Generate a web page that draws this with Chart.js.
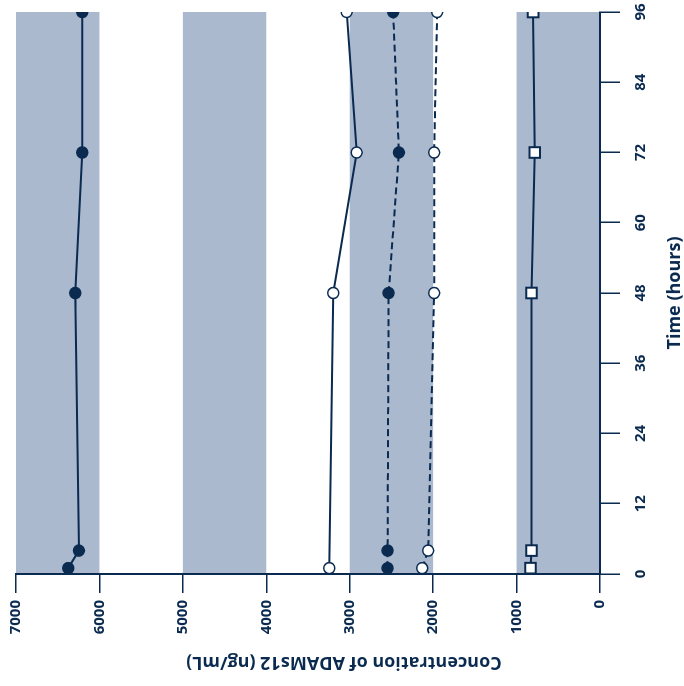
<!DOCTYPE html>
<html>
<head>
<meta charset="utf-8">
<script src="https://cdn.jsdelivr.net/npm/chart.js@4"></script>
<style>
  html, body { margin: 0; padding: 0; background: #fff; overflow: hidden; }
  #wrap {
    position: absolute; left: 0; top: 0;
    width: 686px; height: 684px;
    transform-origin: 0 0;
    transform: translateY(686px) rotate(-90deg);
  }
</style>
</head>
<body>
<div id="wrap"><canvas id="chart" width="686" height="684"></canvas></div>
<script>
// time points (hours) and ADAMs12 concentrations (ng/mL)
const timeTicks = [0, 12, 24, 36, 48, 60, 72, 84, 96];
const concTicks = [0, 1000, 2000, 3000, 4000, 5000, 6000, 7000];

const timesA = [1, 4, 48, 72, 96];
const concA  = [6374, 6246, 6290, 6206, 6206];

const timesB = [1, 48, 72, 96];
const concB  = [3245, 3197, 2917, 3037];

const timesC = [1, 4, 48, 72, 96];
const concC  = [2546, 2546, 2534, 2410, 2479];

const timesD = [1, 4, 48, 72, 96];
const concD  = [2131, 2060, 1988, 1988, 1952];

const timesE = [1, 4, 48, 72, 96];
const concE  = [833, 821, 821, 782, 802];

// shaded horizontal bands (before rotation)
const bands = [[0, 1000], [2000, 3000], [4000, 5000], [6000, 7000]];

const navy = '#0a2a50';
const bandColor = '#abb9cf';

function pts(t, c) {
    return t.map((v, i) => ({ x: v, y: c[i] }));
}

const bandPlugin = {
    id: 'bands',
    beforeDraw(chart) {
        const ctx = chart.ctx;
        const xs = chart.scales.x, ys = chart.scales.y;
        ctx.save();
        ctx.fillStyle = bandColor;
        bands.forEach(b => {
            const top = ys.getPixelForValue(b[1]);
            const bot = ys.getPixelForValue(b[0]);
            ctx.fillRect(xs.left, top, xs.right - xs.left, bot - top);
        });
        ctx.restore();
    },
    afterDraw(chart) {
        // y axis title, sits a bit lower than the centre of the axis
        const ctx = chart.ctx;
        const ys = chart.scales.y;
        ctx.save();
        ctx.translate(24, ys.getPixelForValue(3070));
        ctx.rotate(-Math.PI / 2);
        ctx.fillStyle = navy;
        ctx.font = 'bold 18px "Open Sans"';
        ctx.textAlign = 'center';
        ctx.textBaseline = 'middle';
        ctx.fillText('Concentration of ADAMs12 (ng/mL)', 0, 0);
        ctx.restore();
    }
};

function series(t, c, filled, dashed, shape) {
    return {
        data: pts(t, c),
        showLine: true,
        borderColor: navy,
        borderWidth: 2,
        borderDash: dashed ? [7, 4] : [],
        pointStyle: shape || 'circle',
        pointRadius: shape === 'rect' ? 7.5 : 5.5,
        pointBorderWidth: shape === 'rect' ? 2 : 1.5,
        pointBackgroundColor: filled ? navy : '#fff',
        pointBorderColor: navy,
        tension: 0
    };
}

new Chart(document.getElementById('chart'), {
    type: 'scatter',
    data: {
        datasets: [
            series(timesA, concA, true, false),
            series(timesB, concB, false, false),
            series(timesC, concC, true, true),
            series(timesD, concD, false, true),
            series(timesE, concE, false, false, 'rect')
        ]
    },
    options: {
        responsive: false,
        animation: false,
        devicePixelRatio: 1,
        layout: { padding: { top: 16, right: 12, left: 0, bottom: 0 } },
        plugins: { legend: { display: false }, tooltip: { enabled: false } },
        scales: {
            x: {
                type: 'linear',
                min: 0, max: 96,
                afterFit: s => { s.height = 84; s.paddingLeft = 0; s.paddingRight = 0; },
                afterBuildTicks: s => { s.ticks = timeTicks.map(v => ({ value: v })); },
                grid: { drawOnChartArea: false, drawTicks: true, tickLength: 20, color: navy, lineWidth: 1.5 },
                border: { display: true, color: navy, width: 2 },
                ticks: {
                    color: navy, padding: 12, maxRotation: 0, minRotation: 0,
                    callback: v => String(v),
                    font: { family: 'Open Sans', size: 15, weight: 'bold' }
                },
                title: {
                    display: true, text: 'Time (hours)', color: navy,
                    font: { family: 'Open Sans', size: 18, weight: 'bold', lineHeight: 1 },
                    padding: { top: 0, bottom: 0 }
                }
            },
            y: {
                type: 'linear',
                min: 0, max: 7000,
                afterFit: s => { s.width = 112; s.paddingTop = 0; s.paddingBottom = 0; },
                afterBuildTicks: s => { s.ticks = concTicks.map(v => ({ value: v })); },
                grid: { drawOnChartArea: false, drawTicks: true, tickLength: 19, color: navy, lineWidth: 1.5 },
                border: { display: true, color: navy, width: 2 },
                ticks: {
                    color: navy, padding: 7,
                    callback: v => String(v),
                    font: { family: 'Open Sans', size: 15, weight: 'bold' }
                }
            }
        }
    },
    plugins: [bandPlugin]
});
</script>
</body>
</html>
